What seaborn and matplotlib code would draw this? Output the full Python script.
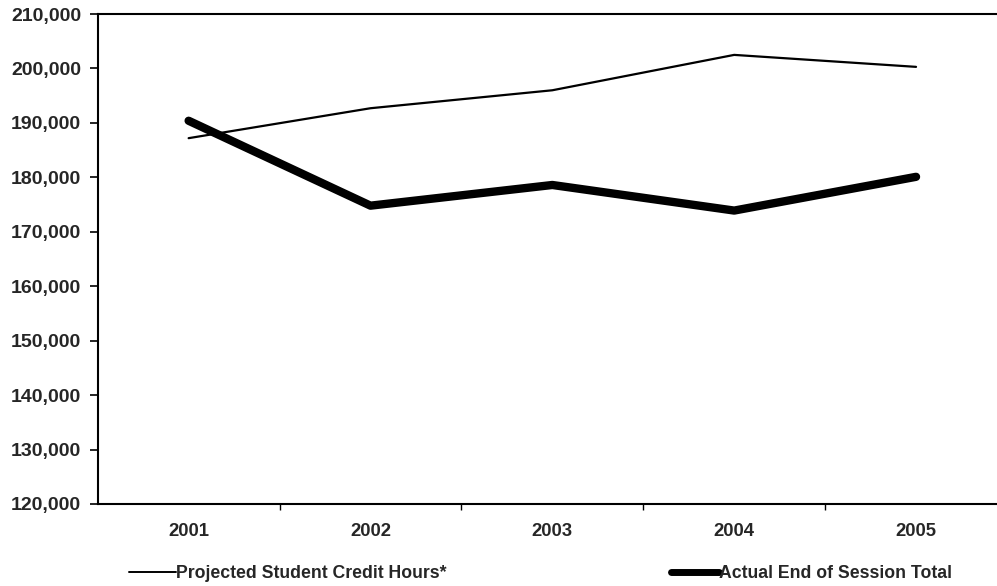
import numpy as np
import pandas as pd
import seaborn as sns
import matplotlib.pyplot as plt
from matplotlib.ticker import FuncFormatter, FixedLocator
from matplotlib.lines import Line2D

years = ['2001', '2002', '2003', '2004', '2005']
projected = [187200, 192700, 196000, 202500, 200300]
actual = [190400, 174800, 178600, 173900, 180100]
series_names = ['Projected Student Credit Hours*', 'Actual End of Session Total']

df = pd.DataFrame({
    'Year': years * 2,
    'Hours': projected + actual,
    'Series': [series_names[0]] * 5 + [series_names[1]] * 5,
})

sns.set_style('white')
plt.rcParams['font.family'] = ['Liberation Sans', 'DejaVu Sans']

fig = plt.figure(figsize=(9.97, 5.86), dpi=100)
ax = fig.add_axes([0.098, 0.14, 0.912, 0.836])

sns.lineplot(data=df[df.Series == series_names[0]], x='Year', y='Hours',
             color='black', lw=1.6, sort=False, ax=ax, legend=False)
sns.lineplot(data=df[df.Series == series_names[1]], x='Year', y='Hours',
             color='black', lw=6, sort=False, ax=ax, legend=False,
             solid_capstyle='round', solid_joinstyle='round')

ax.set_xlim(-0.5, 4.5)
ax.set_ylim(120000, 210000)
ax.set_yticks(np.arange(120000, 210001, 10000))
ax.yaxis.set_major_formatter(FuncFormatter(lambda v, p: f'{int(v):,}'))
ax.xaxis.set_minor_locator(FixedLocator([0.5, 1.5, 2.5, 3.5]))
ax.tick_params(axis='x', which='both', bottom=True)
ax.tick_params(axis='y', which='major', left=True)
ax.tick_params(axis='x', which='major', length=0, pad=14, labelsize=13.3)
ax.tick_params(axis='x', which='minor', length=4, width=1, color='black', direction='out')
ax.tick_params(axis='y', length=6, width=1.2, color='black', direction='out', labelsize=14, pad=6)
for lab in ax.get_xticklabels() + ax.get_yticklabels():
    lab.set_fontweight('bold')
ax.set_xlabel('')
ax.set_ylabel('')
for s in ['left', 'bottom', 'top']:
    ax.spines[s].set_visible(True)
    ax.spines[s].set_color('black')
    ax.spines[s].set_linewidth(1.5)
ax.spines['right'].set_visible(False)

h1 = Line2D([], [], color='black', lw=1.4)
h2 = Line2D([], [], color='black', lw=5)
fig.legend([h1], [series_names[0]], loc='center left', bbox_to_anchor=(0.113, 0.021),
           frameon=False, handlelength=2.7, handletextpad=0.0,
           prop={'weight': 'bold', 'size': 12.7})
fig.legend([h2], [series_names[1]], loc='center left', bbox_to_anchor=(0.657, 0.021),
           frameon=False, handlelength=2.7, handletextpad=0.0,
           prop={'weight': 'bold', 'size': 12.7})

fig.savefig('out.png', dpi=100)
